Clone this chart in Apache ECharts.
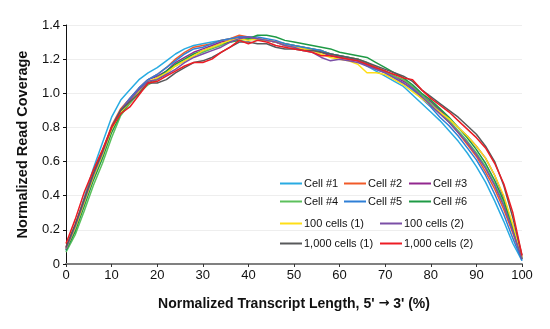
<!DOCTYPE html>
<html><head><meta charset="utf-8">
<script src="https://cdn.jsdelivr.net/npm/echarts@6/dist/echarts.min.js"></script>
<style>html,body{margin:0;padding:0;background:#fff}#c{width:550px;height:329px}</style>
</head><body><div id="c"></div>
<script>
var xValues = [0,2,4,6,8,10,12,14,16,18,20,22,24,26,28,30,32,34,36,38,40,42,44,46,48,50,52,54,56,58,60,62,64,66,68,70,72,74,76,78,80,82,84,86,88,90,92,94,96,98,100];
var seriesNames = ['Cell #1','Cell #2','Cell #3','Cell #4','Cell #5','Cell #6','100 cells (1)','100 cells (2)','1,000 cells (1)','1,000 cells (2)'];
var cell1 = [0.09,0.22,0.39,0.56,0.71,0.86,0.96,1.02,1.08,1.12,1.15,1.19,1.23,1.26,1.28,1.29,1.30,1.31,1.32,1.33,1.32,1.32,1.31,1.30,1.29,1.28,1.27,1.26,1.24,1.22,1.21,1.20,1.19,1.16,1.13,1.10,1.07,1.04,0.99,0.94,0.89,0.84,0.78,0.72,0.65,0.57,0.48,0.37,0.25,0.12,0.02];
var cell2 = [0.10,0.23,0.38,0.53,0.66,0.81,0.91,0.97,1.03,1.08,1.11,1.15,1.20,1.24,1.27,1.28,1.29,1.31,1.32,1.34,1.33,1.32,1.31,1.30,1.29,1.28,1.27,1.26,1.25,1.23,1.22,1.21,1.20,1.17,1.15,1.13,1.10,1.08,1.03,0.98,0.93,0.88,0.83,0.77,0.70,0.63,0.54,0.44,0.32,0.18,0.03];
var cell3 = [0.09,0.22,0.37,0.52,0.65,0.80,0.90,0.97,1.03,1.08,1.10,1.13,1.18,1.21,1.24,1.26,1.28,1.30,1.31,1.33,1.33,1.32,1.31,1.30,1.28,1.27,1.26,1.25,1.24,1.22,1.21,1.20,1.19,1.17,1.15,1.13,1.10,1.07,1.04,0.99,0.95,0.90,0.85,0.80,0.75,0.69,0.62,0.52,0.39,0.22,0.04];
var cell4 = [0.07,0.17,0.31,0.46,0.59,0.74,0.87,0.94,1.00,1.05,1.08,1.12,1.16,1.19,1.22,1.24,1.26,1.28,1.30,1.31,1.32,1.31,1.31,1.30,1.29,1.28,1.27,1.26,1.25,1.23,1.22,1.21,1.20,1.18,1.15,1.13,1.10,1.08,1.04,0.99,0.94,0.89,0.84,0.78,0.72,0.65,0.57,0.47,0.35,0.20,0.03];
var cell5 = [0.08,0.20,0.36,0.51,0.64,0.79,0.90,0.97,1.03,1.08,1.11,1.15,1.19,1.23,1.26,1.27,1.29,1.31,1.32,1.33,1.33,1.33,1.32,1.31,1.29,1.28,1.27,1.26,1.25,1.23,1.22,1.21,1.19,1.17,1.14,1.12,1.09,1.06,1.02,0.97,0.92,0.86,0.81,0.75,0.68,0.61,0.52,0.41,0.29,0.15,0.02];
var cell6 = [0.08,0.19,0.34,0.49,0.62,0.77,0.88,0.95,1.01,1.06,1.09,1.13,1.17,1.20,1.23,1.25,1.27,1.29,1.30,1.31,1.32,1.34,1.34,1.33,1.31,1.30,1.29,1.28,1.27,1.26,1.24,1.23,1.22,1.21,1.18,1.15,1.12,1.09,1.05,1.00,0.96,0.91,0.86,0.80,0.74,0.67,0.59,0.49,0.37,0.21,0.03];
var cells100a = [0.09,0.21,0.36,0.51,0.64,0.79,0.89,0.95,1.01,1.07,1.09,1.12,1.16,1.19,1.22,1.25,1.27,1.29,1.31,1.32,1.31,1.32,1.31,1.30,1.28,1.27,1.26,1.25,1.23,1.21,1.20,1.19,1.17,1.12,1.12,1.11,1.08,1.05,1.01,0.97,0.93,0.89,0.85,0.80,0.75,0.69,0.62,0.52,0.40,0.23,0.04];
var cells100b = [0.09,0.22,0.37,0.52,0.65,0.80,0.90,0.96,1.02,1.07,1.08,1.11,1.14,1.18,1.21,1.23,1.25,1.27,1.30,1.32,1.33,1.32,1.31,1.30,1.28,1.27,1.25,1.24,1.21,1.19,1.20,1.19,1.18,1.16,1.14,1.12,1.09,1.06,1.03,0.98,0.93,0.88,0.83,0.77,0.71,0.64,0.56,0.46,0.34,0.19,0.03];
var cells1000a = [0.10,0.23,0.38,0.53,0.66,0.80,0.90,0.95,1.00,1.06,1.06,1.08,1.12,1.15,1.18,1.19,1.21,1.24,1.27,1.30,1.30,1.29,1.29,1.27,1.26,1.26,1.25,1.25,1.24,1.23,1.22,1.21,1.20,1.18,1.16,1.14,1.12,1.10,1.07,1.02,0.98,0.94,0.90,0.86,0.81,0.76,0.69,0.60,0.46,0.27,0.05];
var cells1000b = [0.12,0.26,0.42,0.55,0.67,0.80,0.88,0.92,0.99,1.06,1.07,1.10,1.13,1.16,1.18,1.18,1.20,1.24,1.27,1.31,1.29,1.31,1.30,1.28,1.27,1.26,1.25,1.24,1.22,1.22,1.21,1.20,1.19,1.17,1.15,1.13,1.11,1.09,1.08,1.02,0.97,0.93,0.89,0.84,0.79,0.74,0.68,0.59,0.47,0.30,0.05];
var seriesValues = [cell1,cell2,cell3,cell4,cell5,cell6,cells100a,cells100b,cells1000a,cells1000b];
var colors = ['#29abe2','#f15a29','#92278f','#5cc05c','#2f7fd6','#1e9a45','#ffde17','#7b4fa6','#58595b','#ed1c24'];
var yTicks = [0,0.2,0.4,0.6,0.8,1.0,1.2,1.4];

var FONT = 'Liberation Sans, Arial, sans-serif';
var legendPos = [[280,185],[344,185],[409,185],[280,203],[344,203],[409,203],[280,225],[380,225],[280,245],[380,245]];

var series = seriesNames.map(function(n,i){
  return {name:n,type:'line',showSymbol:false,symbol:'none',smooth:false,
    data:xValues.map(function(x,j){return [x,seriesValues[i][j]];}),
    lineStyle:{width:1.5,color:colors[i]},itemStyle:{color:colors[i]}};
});
var legends = seriesNames.map(function(n,i){
  return {data:[n],left:legendPos[i][0],top:legendPos[i][1]-7,icon:'rect',itemWidth:22,itemHeight:2,itemGap:0,
    padding:0,textStyle:{fontFamily:FONT,fontSize:11,color:'#111',padding:[0,0,0,-3]},selectedMode:false};
});
var chart = echarts.init(document.getElementById('c'),null,{renderer:'canvas'});
chart.setOption({
  animation:false,
  color:colors,
  legend:legends,
  grid:{left:66,right:28,top:25,bottom:65,containLabel:false},
  xAxis:{type:'value',min:0,max:100,interval:10,
    name:"Normalized Transcript Length, 5' {a|\u2192} 3' (%)",nameLocation:'middle',nameGap:33,
    nameTextStyle:{fontFamily:FONT,fontSize:14,fontWeight:'bold',color:'#111',
      rich:{a:{fontFamily:'DejaVu Sans',fontSize:13,fontWeight:'bold',color:'#111'}}},
    axisLine:{lineStyle:{color:'#808080',width:2}},
    axisTick:{show:true,length:3,lineStyle:{color:'#333'}},
    axisLabel:{fontFamily:FONT,fontSize:13,color:'#111',margin:5},
    splitLine:{show:false}},
  yAxis:{type:'value',min:0,max:1.4,interval:0.2,
    name:'Normalized Read Coverage',nameLocation:'middle',nameGap:36,
    nameTextStyle:{fontFamily:FONT,fontSize:14.5,fontWeight:'bold',color:'#111'},
    axisLine:{show:true,lineStyle:{color:'#111',width:1}},
    axisTick:{show:true,length:3,lineStyle:{color:'#111'}},
    axisLabel:{fontFamily:FONT,fontSize:13,color:'#111',margin:6,
      formatter:function(v){return v===0?'0':v.toFixed(1);}},
    splitLine:{show:true,lineStyle:{color:'#eeeeee',width:1}}},
  series:series
});
</script></body></html>
